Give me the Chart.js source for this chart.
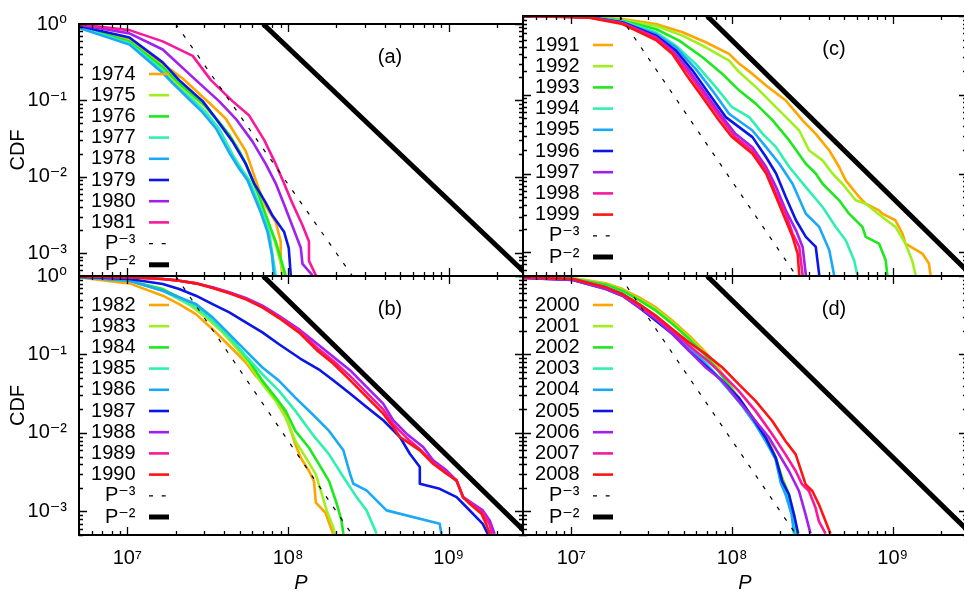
<!DOCTYPE html>
<html>
<head>
<meta charset="utf-8">
<script src="https://cdn.jsdelivr.net/npm/chart.js@4.4.1/dist/chart.umd.min.js"></script>
<style>
  html, body { margin: 0; padding: 0; background: #fff; overflow: hidden; }
  #wrap { position: relative; width: 964px; height: 595px; overflow: hidden; }
  #wrap canvas { position: absolute; left: 0; top: 0; }
</style>
</head>
<body>
<div id="wrap">
  <canvas id="panel-a" width="970" height="595"></canvas>
  <canvas id="panel-b" width="970" height="595"></canvas>
  <canvas id="panel-c" width="970" height="595"></canvas>
  <canvas id="panel-d" width="970" height="595"></canvas>
</div>
<script>
'use strict';

// ************************* AXES ***************************

const xTickValues = [1e7, 1e8, 1e9];
const xTickLabels = ['10⁷', '10⁸', '10⁹'];
const yTickValues = [1, 0.1, 0.01, 0.001];
const yTickLabels = ['10⁰', '10⁻¹', '10⁻²', '10⁻³'];

// power-law guide lines, end points
const refP3x = [2.0e7, 2.55e8];
const refP3y = [1, 4.8e-4];
const refP2x = [7.0e7, 3.1e9];
const refP2y = [1, 5.1e-4];

// ************************* PANEL (a) ***************************

const yearsA = ['1974', '1975', '1976', '1977', '1978', '1979', '1980', '1981'];
const p1974 = [5.0e6, 1.03e7, 1.66e7, 2.21e7, 3.39e7, 4.10e7, 4.73e7, 5.46e7, 6.0e7, 6.61e7, 7.26e7, 8.38e7, 9.0e7, 9.0e7, 9.22e7];
const c1974 = [0.93, 0.62, 0.30, 0.193, 0.0845, 0.0573, 0.0352, 0.0216, 0.0121, 0.00673, 0.00414, 0.00255, 0.00142, 0.00079, 0.00051];
const p1975 = [5.0e6, 1.03e7, 1.66e7, 2.0e7, 2.94e7, 3.72e7, 4.31e7, 4.97e7, 5.46e7, 6.0e7, 6.61e7, 7.45e7, 8.38e7, 9.44e7];
const c1975 = [0.92, 0.60, 0.277, 0.167, 0.0887, 0.052, 0.0352, 0.0216, 0.0147, 0.00902, 0.00555, 0.00281, 0.00129, 0.00051];
const p1976 = [5.0e6, 1.03e7, 1.66e7, 2.10e7, 3.08e7, 3.72e7, 4.31e7, 4.97e7, 5.46e7, 6.0e7, 6.61e7, 7.26e7, 8.38e7, 9.66e7];
const c1976 = [0.92, 0.59, 0.272, 0.167, 0.0845, 0.052, 0.0352, 0.0216, 0.0147, 0.00902, 0.00555, 0.00309, 0.00142, 0.00051];
const p1977 = [5.0e6, 1.03e7, 1.66e7, 1.91e7, 2.55e7, 3.08e7, 3.72e7, 4.51e7, 5.20e7, 5.73e7, 6.30e7, 6.93e7, 7.62e7, 8.0e7, 8.38e7];
const c1977 = [0.90, 0.558, 0.247, 0.167, 0.1026, 0.0695, 0.0428, 0.0196, 0.0121, 0.00902, 0.00555, 0.00341, 0.0019, 0.00096, 0.00051];
const p1978 = [5.0e6, 1.03e7, 1.66e7, 2.43e7, 2.94e7, 3.56e7, 4.31e7, 4.97e7, 5.58e7, 6.15e7, 6.76e7, 7.45e7, 7.93e7, 8.18e7];
const c1978 = [0.89, 0.537, 0.228, 0.1026, 0.0695, 0.0428, 0.0206, 0.0127, 0.00902, 0.00555, 0.00341, 0.0019, 0.00096, 0.00051];
const p1979 = [5.0e6, 1.03e7, 1.66e7, 2.10e7, 2.94e7, 3.56e7, 4.51e7, 5.46e7, 6.15e7, 7.26e7, 8.0e7, 9.44e7, 1.01e8, 1.04e8];
const c1979 = [0.944, 0.665, 0.314, 0.184, 0.0977, 0.0573, 0.029, 0.0147, 0.00818, 0.00457, 0.00309, 0.0019, 0.00117, 0.00051];
const p1980 = [5.0e6, 1.03e7, 1.66e7, 2.67e7, 3.72e7, 4.73e7, 6.0e7, 7.26e7, 8.38e7, 9.44e7, 1.06e8, 1.20e8, 1.23e8, 1.42e8];
const c1980 = [0.981, 0.754, 0.464, 0.184, 0.0977, 0.0573, 0.029, 0.0147, 0.00818, 0.00435, 0.00231, 0.00117, 0.00072, 0.00051];
const p1981 = [5.0e6, 1.03e7, 1.66e7, 2.55e7, 3.31e7, 4.51e7, 5.73e7, 7.10e7, 8.38e7, 9.44e7, 1.06e8, 1.23e8, 1.35e8, 1.35e8, 1.49e8];
const c1981 = [0.99, 0.831, 0.592, 0.382, 0.184, 0.0977, 0.0631, 0.0304, 0.0147, 0.00818, 0.00457, 0.00231, 0.00142, 0.00079, 0.00051];

// ************************* PANEL (b) ***************************

const yearsB = ['1982', '1983', '1984', '1985', '1986', '1987', '1988', '1989', '1990'];
const p1982 = [5.0e6, 1.03e7, 1.66e7, 2.10e7, 2.67e7, 3.39e7, 4.31e7, 5.46e7, 6.30e7, 7.26e7, 8.38e7, 9.22e7, 1.01e8, 1.11e8, 1.20e8, 1.35e8, 1.45e8, 1.49e8, 1.71e8, 1.80e8, 1.91e8];
const c1982 = [0.962, 0.806, 0.561, 0.439, 0.327, 0.210, 0.129, 0.0789, 0.0533, 0.0397, 0.0269, 0.0200, 0.0129, 0.00715, 0.00483, 0.00327, 0.00243, 0.00129, 0.00096, 0.000714, 0.000517];
const p1983 = [5.0e6, 1.03e7, 1.66e7, 2.43e7, 3.08e7, 3.91e7, 4.73e7, 5.73e7, 6.93e7, 8.38e7, 9.66e7, 1.11e8, 1.29e8, 1.49e8, 1.74e8, 1.91e8, 1.96e8];
const c1983 = [0.962, 0.872, 0.662, 0.430, 0.297, 0.191, 0.123, 0.0752, 0.0418, 0.0256, 0.0157, 0.00789, 0.00483, 0.00296, 0.00103, 0.00063, 0.000517];
const p1984 = [5.0e6, 1.03e7, 1.66e7, 2.43e7, 3.08e7, 3.91e7, 4.73e7, 5.73e7, 6.93e7, 8.38e7, 9.66e7, 1.11e8, 1.35e8, 1.56e8, 1.80e8, 2.01e8, 2.15e8, 2.21e8];
const c1984 = [0.962, 0.872, 0.682, 0.461, 0.327, 0.210, 0.135, 0.0829, 0.0461, 0.0282, 0.0191, 0.0106, 0.00648, 0.00397, 0.00243, 0.00125, 0.000765, 0.000517];
const p1985 = [5.0e6, 1.03e7, 1.66e7, 2.67e7, 3.39e7, 4.31e7, 5.46e7, 6.93e7, 8.79e7, 1.11e8, 1.42e8, 1.80e8, 2.21e8, 2.67e8, 3.08e8, 3.56e8];
const c1985 = [0.962, 0.872, 0.650, 0.398, 0.269, 0.165, 0.0961, 0.0560, 0.0343, 0.0191, 0.0096, 0.00533, 0.00274, 0.00152, 0.00103, 0.000517];
const p1986 = [5.0e6, 1.03e7, 1.66e7, 2.67e7, 3.39e7, 4.31e7, 5.46e7, 6.93e7, 8.79e7, 1.11e8, 1.42e8, 1.80e8, 2.21e8, 2.43e8, 2.55e8, 3.08e8, 4.10e8, 8.79e8, 9.00e8];
const c1986 = [0.962, 0.872, 0.650, 0.439, 0.297, 0.182, 0.111, 0.0682, 0.0461, 0.0282, 0.0173, 0.0106, 0.00600, 0.00302, 0.00225, 0.00185, 0.00103, 0.000694, 0.000517];
const p1987 = [5.0e6, 1.03e7, 1.66e7, 2.10e7, 2.67e7, 3.39e7, 4.31e7, 5.46e7, 6.93e7, 8.79e7, 1.19e8, 1.58e8, 1.91e8, 2.43e8, 3.08e8, 3.91e8, 4.97e8, 5.73e8, 6.61e8, 6.61e8, 8.79e8, 1.12e9, 1.23e9, 1.63e9, 1.75e9];
const c1987 = [0.980, 0.915, 0.790, 0.682, 0.561, 0.439, 0.344, 0.256, 0.191, 0.135, 0.0888, 0.0630, 0.0470, 0.0317, 0.0214, 0.0145, 0.00887, 0.00543, 0.00367, 0.00225, 0.00194, 0.00152, 0.00125, 0.000694, 0.000517];
const p1988 = [5.0e6, 1.03e7, 1.66e7, 2.10e7, 2.67e7, 3.39e7, 4.31e7, 5.46e7, 6.93e7, 8.79e7, 1.19e8, 1.51e8, 1.91e8, 2.43e8, 3.08e8, 3.91e8, 4.51e8, 5.46e8, 6.93e8, 8.00e8, 9.68e8, 1.12e9, 1.23e9, 1.63e9, 1.80e9, 1.93e9];
const c1988 = [0.980, 0.962, 0.915, 0.872, 0.806, 0.717, 0.619, 0.524, 0.418, 0.311, 0.204, 0.138, 0.0933, 0.0630, 0.0386, 0.0236, 0.0145, 0.00979, 0.00661, 0.00447, 0.00333, 0.00248, 0.00152, 0.00103, 0.000765, 0.000517];
const p1989 = [5.0e6, 1.03e7, 1.66e7, 2.10e7, 2.67e7, 3.39e7, 4.31e7, 5.46e7, 6.93e7, 8.79e7, 1.19e8, 1.51e8, 1.91e8, 2.43e8, 3.08e8, 3.91e8, 4.51e8, 5.46e8, 6.61e8, 8.00e8, 9.68e8, 1.12e9, 1.23e9, 1.63e9, 1.80e9, 1.86e9];
const c1989 = [0.980, 0.962, 0.915, 0.872, 0.806, 0.710, 0.610, 0.514, 0.40, 0.30, 0.196, 0.123, 0.083, 0.0533, 0.0327, 0.0200, 0.0129, 0.0087, 0.0062, 0.0042, 0.0031, 0.00243, 0.00149, 0.00096, 0.00068, 0.000517];
const p1990 = [5.0e6, 1.03e7, 1.66e7, 2.10e7, 2.67e7, 3.39e7, 4.31e7, 5.46e7, 6.93e7, 8.79e7, 1.19e8, 1.51e8, 1.91e8, 2.43e8, 3.08e8, 3.91e8, 4.51e8, 4.97e8, 5.73e8, 6.61e8, 8.00e8, 9.68e8, 1.12e9, 1.23e9, 1.35e9, 1.60e9, 1.71e9, 1.80e9];
const c1990 = [0.980, 0.962, 0.915, 0.872, 0.806, 0.703, 0.601, 0.504, 0.398, 0.291, 0.185, 0.1135, 0.0767, 0.0470, 0.0288, 0.0176, 0.0119, 0.00887, 0.00729, 0.00600, 0.00405, 0.00302, 0.00248, 0.00152, 0.00125, 0.00093, 0.000694, 0.000517];

// ************************* PANEL (c) ***************************

const yearsC = ['1991', '1992', '1993', '1994', '1995', '1996', '1997', '1998', '1999'];
const p1991 = [5.0e6, 1.29e7, 2.08e7, 3.36e7, 4.92e7, 6.86e7, 9.58e7, 1.11e8, 1.34e8, 1.63e8, 2.16e8, 2.75e8, 3.32e8, 4.03e8, 4.64e8, 5.10e8, 6.18e8, 6.79e8, 8.22e8, 8.61e8, 1.04e9, 1.15e9, 1.20e9, 1.53e9, 1.68e9, 1.72e9];
const c1991 = [1.0, 0.981, 0.916, 0.792, 0.621, 0.464, 0.330, 0.247, 0.184, 0.131, 0.0845, 0.0472, 0.0319, 0.0196, 0.0121, 0.00818, 0.00503, 0.00414, 0.00341, 0.00309, 0.00255, 0.00173, 0.00129, 0.000964, 0.000719, 0.000512];
const p1992 = [5.0e6, 1.29e7, 2.08e7, 3.36e7, 4.92e7, 6.86e7, 9.58e7, 1.11e8, 1.41e8, 1.79e8, 2.27e8, 2.62e8, 3.02e8, 3.66e8, 4.22e8, 4.86e8, 5.89e8, 6.79e8, 8.61e8, 1.04e9, 1.20e9, 1.32e9, 1.39e9];
const c1992 = [1.0, 0.981, 0.890, 0.754, 0.563, 0.401, 0.272, 0.193, 0.125, 0.0766, 0.0472, 0.0352, 0.0196, 0.0147, 0.0100, 0.00742, 0.00457, 0.00414, 0.00281, 0.00210, 0.00129, 0.000793, 0.000512];
const p1993 = [5.0e6, 1.29e7, 2.08e7, 3.36e7, 4.69e7, 6.55e7, 8.71e7, 1.11e8, 1.41e8, 1.79e8, 2.27e8, 2.88e8, 3.32e8, 3.66e8, 4.64e8, 5.35e8, 6.48e8, 6.79e8, 8.22e8, 9.04e8, 9.26e8];
const c1993 = [1.0, 0.981, 0.873, 0.684, 0.487, 0.299, 0.184, 0.113, 0.0766, 0.0472, 0.0263, 0.0133, 0.0100, 0.00742, 0.00457, 0.00309, 0.00210, 0.00157, 0.00129, 0.000793, 0.000512];
const p1994 = [5.0e6, 1.29e7, 2.08e7, 3.36e7, 4.47e7, 5.94e7, 7.93e7, 1.00e8, 1.28e8, 1.55e8, 1.88e8, 2.27e8, 2.88e8, 3.66e8, 4.42e8, 5.10e8, 5.75e8, 6.03e8];
const c1994 = [1.0, 0.971, 0.856, 0.621, 0.421, 0.247, 0.125, 0.0695, 0.0520, 0.0319, 0.0216, 0.0121, 0.00673, 0.00376, 0.00210, 0.00142, 0.000793, 0.000512];
const p1995 = [5.0e6, 1.29e7, 2.08e7, 3.36e7, 4.47e7, 5.94e7, 7.55e7, 9.58e7, 1.34e8, 1.63e8, 1.97e8, 2.38e8, 2.88e8, 3.49e8, 4.03e8, 4.32e8];
const c1995 = [1.0, 0.971, 0.831, 0.592, 0.401, 0.213, 0.113, 0.0573, 0.0352, 0.0216, 0.0133, 0.00742, 0.00309, 0.00210, 0.00106, 0.000512];
const p1996 = [5.0e6, 1.29e7, 2.08e7, 3.36e7, 4.47e7, 5.68e7, 7.19e7, 9.14e7, 1.34e8, 1.63e8, 1.88e8, 2.16e8, 2.50e8, 2.88e8, 3.32e8, 3.49e8];
const c1996 = [1.0, 0.962, 0.831, 0.563, 0.364, 0.203, 0.103, 0.0520, 0.0290, 0.0161, 0.0100, 0.00503, 0.00255, 0.00157, 0.00117, 0.000512];
const p1997 = [5.0e6, 1.29e7, 2.08e7, 3.36e7, 4.26e7, 5.41e7, 6.86e7, 8.71e7, 1.05e8, 1.34e8, 1.63e8, 1.88e8, 2.16e8, 2.50e8, 2.75e8, 2.88e8];
const c1997 = [1.0, 0.962, 0.815, 0.537, 0.364, 0.203, 0.103, 0.0520, 0.0319, 0.0216, 0.0121, 0.00673, 0.00341, 0.00190, 0.00117, 0.000512];
const p1998 = [5.0e6, 1.29e7, 2.08e7, 3.36e7, 4.26e7, 5.41e7, 6.86e7, 8.71e7, 1.05e8, 1.34e8, 1.63e8, 1.88e8, 2.16e8, 2.38e8, 2.62e8, 2.75e8];
const c1998 = [1.0, 0.962, 0.807, 0.526, 0.346, 0.184, 0.0933, 0.0472, 0.0290, 0.0196, 0.0110, 0.00555, 0.00309, 0.00173, 0.00117, 0.000512];
const p1999 = [5.0e6, 1.29e7, 2.08e7, 3.36e7, 4.26e7, 5.15e7, 6.55e7, 8.30e7, 1.00e8, 1.34e8, 1.63e8, 1.88e8, 2.16e8, 2.38e8, 2.56e8, 2.62e8];
const c1999 = [1.0, 0.952, 0.792, 0.496, 0.330, 0.184, 0.0933, 0.0472, 0.0290, 0.0178, 0.0100, 0.00503, 0.00255, 0.00157, 0.000964, 0.000512];

// ************************* PANEL (d) ***************************

const yearsD = ['2000', '2001', '2002', '2003', '2004', '2005', '2006', '2007', '2008'];
const p2000 = [5.0e6, 1.02e7, 1.64e7, 2.08e7, 2.64e7, 3.36e7, 4.26e7, 5.41e7, 6.55e7, 7.93e7, 9.58e7, 1.16e8, 1.40e8, 1.54e8, 1.70e8, 1.87e8, 2.05e8, 2.26e8, 2.43e8, 2.55e8];
const c2000 = [0.980, 0.943, 0.806, 0.682, 0.534, 0.398, 0.269, 0.173, 0.117, 0.0752, 0.0418, 0.0232, 0.0142, 0.0106, 0.0079, 0.00483, 0.00268, 0.00164, 0.00091, 0.00052];
const p2001 = [5.0e6, 1.02e7, 1.64e7, 2.08e7, 2.64e7, 3.36e7, 4.26e7, 5.41e7, 6.55e7, 7.93e7, 9.58e7, 1.16e8, 1.40e8, 1.62e8, 1.87e8, 2.05e8, 2.26e8, 2.43e8, 2.51e8];
const c2001 = [0.980, 0.934, 0.790, 0.662, 0.508, 0.379, 0.256, 0.165, 0.111, 0.0716, 0.0418, 0.0244, 0.0142, 0.0087, 0.00483, 0.00268, 0.00164, 0.00091, 0.00052];
const p2002 = [5.0e6, 1.02e7, 1.64e7, 2.08e7, 2.64e7, 3.36e7, 4.26e7, 5.41e7, 6.55e7, 7.93e7, 9.58e7, 1.16e8, 1.40e8, 1.62e8, 1.87e8, 2.05e8, 2.26e8, 2.39e8, 2.49e8];
const c2002 = [0.971, 0.924, 0.775, 0.650, 0.494, 0.361, 0.244, 0.157, 0.106, 0.0682, 0.0398, 0.0232, 0.0135, 0.00828, 0.00483, 0.00255, 0.00164, 0.00091, 0.00052];
const p2003 = [5.0e6, 1.02e7, 1.64e7, 2.08e7, 2.64e7, 3.36e7, 4.26e7, 5.41e7, 6.55e7, 7.93e7, 9.58e7, 1.16e8, 1.40e8, 1.62e8, 1.87e8, 2.03e8, 2.21e8, 2.37e8, 2.46e8];
const c2003 = [0.962, 0.915, 0.731, 0.601, 0.439, 0.311, 0.200, 0.129, 0.0871, 0.0560, 0.0360, 0.0221, 0.0129, 0.0079, 0.00460, 0.00221, 0.00157, 0.00091, 0.00052];
const p2004 = [5.0e6, 1.02e7, 1.64e7, 2.08e7, 2.64e7, 3.36e7, 4.26e7, 5.41e7, 6.55e7, 7.93e7, 9.58e7, 1.16e8, 1.40e8, 1.62e8, 1.87e8, 2.01e8, 2.17e8, 2.35e8, 2.43e8];
const c2004 = [0.962, 0.907, 0.717, 0.589, 0.430, 0.297, 0.196, 0.123, 0.0829, 0.0549, 0.0350, 0.0221, 0.0129, 0.0079, 0.00460, 0.00232, 0.00157, 0.00091, 0.00052];
const p2005 = [5.0e6, 1.02e7, 1.64e7, 2.08e7, 2.64e7, 3.36e7, 4.26e7, 5.41e7, 6.86e7, 8.71e7, 1.10e8, 1.34e8, 1.62e8, 1.87e8, 2.05e8, 2.26e8, 2.43e8, 2.58e8];
const c2005 = [0.943, 0.889, 0.682, 0.561, 0.398, 0.269, 0.182, 0.111, 0.0716, 0.0461, 0.0282, 0.0157, 0.0087, 0.00483, 0.00243, 0.00164, 0.00091, 0.00052];
const p2006 = [5.0e6, 1.02e7, 1.64e7, 2.08e7, 2.64e7, 3.36e7, 4.26e7, 5.41e7, 6.86e7, 8.71e7, 1.10e8, 1.40e8, 1.70e8, 1.96e8, 2.26e8, 2.61e8, 2.87e8, 3.08e8];
const c2006 = [0.943, 0.889, 0.682, 0.561, 0.398, 0.282, 0.182, 0.111, 0.0682, 0.0461, 0.0256, 0.0142, 0.0087, 0.00533, 0.00327, 0.00182, 0.00091, 0.00052];
const p2007 = [5.0e6, 1.02e7, 1.64e7, 2.08e7, 2.64e7, 3.36e7, 4.26e7, 5.41e7, 6.86e7, 8.71e7, 1.10e8, 1.40e8, 1.78e8, 2.15e8, 2.49e8, 2.73e8, 3.01e8, 3.31e8, 3.47e8, 3.82e8];
const c2007 = [0.962, 0.915, 0.717, 0.578, 0.418, 0.297, 0.200, 0.129, 0.0871, 0.0560, 0.0343, 0.0191, 0.0096, 0.00533, 0.00327, 0.00221, 0.00182, 0.00111, 0.00075, 0.00052];
const p2008 = [5.0e6, 1.02e7, 1.64e7, 2.08e7, 2.64e7, 3.36e7, 4.26e7, 5.41e7, 6.86e7, 8.71e7, 1.10e8, 1.40e8, 1.78e8, 2.15e8, 2.49e8, 2.87e8, 3.16e8, 3.47e8, 3.82e8, 4.10e8];
const c2008 = [0.962, 0.915, 0.717, 0.589, 0.439, 0.311, 0.210, 0.142, 0.101, 0.0682, 0.0418, 0.0256, 0.0142, 0.0079, 0.00533, 0.00221, 0.00182, 0.00123, 0.00075, 0.00052];

// ************************* STYLE ***************************

const FONT = '"Liberation Sans", "DejaVu Sans", Arial, sans-serif';
const lineColors = ['#ffa500', '#a0f01e', '#1ee81e', '#30f0b0', '#1aa8f8', '#0a16e8', '#a020f0', '#f8189c', '#ff1414'];
const W = 970;
const H = 595;

// plot rectangles in page pixels (right panels run a little past the window edge)
let panels = [
  { id: 'panel-a', tag: '(a)', years: yearsA, left: 79, top: 16, right: 523, bottom: 276, legendTop: 74,
    p: [p1974, p1975, p1976, p1977, p1978, p1979, p1980, p1981],
    c: [c1974, c1975, c1976, c1977, c1978, c1979, c1980, c1981] },
  { id: 'panel-b', tag: '(b)', years: yearsB, left: 79, top: 276, right: 523, bottom: 535, legendTop: 305,
    p: [p1982, p1983, p1984, p1985, p1986, p1987, p1988, p1989, p1990],
    c: [c1982, c1983, c1984, c1985, c1986, c1987, c1988, c1989, c1990] },
  { id: 'panel-c', tag: '(c)', years: yearsC, left: 523, top: 16, right: 967, bottom: 276, legendTop: 45,
    p: [p1991, p1992, p1993, p1994, p1995, p1996, p1997, p1998, p1999],
    c: [c1991, c1992, c1993, c1994, c1995, c1996, c1997, c1998, c1999] },
  { id: 'panel-d', tag: '(d)', years: yearsD, left: 523, top: 276, right: 967, bottom: 535, legendTop: 305,
    p: [p2000, p2001, p2002, p2003, p2004, p2005, p2006, p2007, p2008],
    c: [c2000, c2001, c2002, c2003, c2004, c2005, c2006, c2007, c2008] }
];

// ************************* PLUGIN: ticks, frame, key ***************************

const framePlugin = {
  id: 'frame',
  afterDatasetsDraw(chart, args, opts) {
    const ctx = chart.ctx;
    const a = chart.chartArea;
    const x = chart.scales.x;
    const y = chart.scales.y;
    ctx.save();
    ctx.strokeStyle = '#000';
    ctx.lineWidth = 1.3;
    ctx.beginPath();
    for (let d = 6; d <= 9; d++) {
      for (let m = 1; m <= 9; m++) {
        const v = m * Math.pow(10, d);
        if (v < x.min || v > x.max) continue;
        const px = Math.round(x.getPixelForValue(v)) + 0.5;
        const len = m === 1 ? 8 : 4;
        ctx.moveTo(px, a.bottom); ctx.lineTo(px, a.bottom - len);
        ctx.moveTo(px, a.top); ctx.lineTo(px, a.top + len);
      }
    }
    for (let d = -4; d <= 0; d++) {
      for (let m = 1; m <= 9; m++) {
        const v = m * Math.pow(10, d);
        if (v < y.min || v > y.max * 1.0001) continue;
        const py = Math.round(y.getPixelForValue(v)) + 0.5;
        const len = m === 1 ? 8 : 4;
        ctx.moveTo(a.left, py); ctx.lineTo(a.left + len, py);
        ctx.moveTo(a.right, py); ctx.lineTo(a.right - len, py);
      }
    }
    ctx.stroke();

    ctx.lineWidth = 2;
    ctx.strokeRect(a.left, a.top, a.right - a.left, a.bottom - a.top);

    // key, text right aligned with the sample line after it
    ctx.font = '20px ' + FONT;
    ctx.fillStyle = '#000';
    ctx.textAlign = 'right';
    ctx.textBaseline = 'middle';
    chart.data.datasets.forEach((ds, i) => {
      const yy = opts.legendTop + i * 21.2;
      ctx.fillText(ds.label, a.left + 56.5, yy);
      ctx.save();
      ctx.strokeStyle = ds.borderColor;
      ctx.lineWidth = ds.borderWidth;
      ctx.setLineDash(ds.borderDash || []);
      ctx.beginPath();
      ctx.moveTo(a.left + 70, yy);
      ctx.lineTo(a.left + 90, yy);
      ctx.stroke();
      ctx.restore();
    });

    ctx.textAlign = 'center';
    ctx.fillText(opts.tag, a.left + 311, a.top + 33);
    ctx.restore();
  }
};

// ************************* BUILD ***************************

function buildPanel(panel) {
  const isLeft = panel.left < 100;
  const isBottom = panel.top > 100;
  let datasets = [];

  panel.years.forEach((yr, i) => {
    datasets.push({
      label: yr,
      data: panel.p[i].map((v, j) => ({ x: v, y: panel.c[i][j] })),
      borderColor: lineColors[i],
      borderWidth: 2.6,
      order: 50 - i
    });
  });
  datasets.push({
    label: 'P⁻³',
    data: refP3x.map((v, j) => ({ x: v, y: refP3y[j] })),
    borderColor: '#000',
    borderWidth: 1.2,
    borderDash: [4, 8.7],
    order: 2
  });
  datasets.push({
    label: 'P⁻²',
    data: refP2x.map((v, j) => ({ x: v, y: refP2y[j] })),
    borderColor: '#000',
    borderWidth: 5,
    order: 1
  });

  return new Chart(document.getElementById(panel.id), {
    type: 'line',
    data: { datasets: datasets },
    options: {
      responsive: false,
      animation: false,
      events: [],
      clip: 0,
      layout: {
        padding: {
          left: isLeft ? 0 : panel.left,
          right: W - panel.right,
          top: panel.top,
          bottom: isBottom ? 0 : H - panel.bottom
        }
      },
      elements: {
        point: { radius: 0 },
        line: { tension: 0, borderJoinStyle: 'round', borderCapStyle: 'butt' }
      },
      plugins: {
        legend: { display: false },
        tooltip: { enabled: false },
        frame: { legendTop: panel.legendTop, tag: panel.tag }
      },
      scales: {
        x: {
          type: 'logarithmic',
          min: 5e6,
          max: 2.9e9,
          display: isBottom,
          grid: { display: false, drawTicks: false },
          border: { display: false },
          afterBuildTicks: (s) => { s.ticks = xTickValues.map(v => ({ value: v })); },
          afterFit: (s) => { s.height = isBottom ? H - panel.bottom : 0; },
          ticks: {
            autoSkip: false,
            maxRotation: 0,
            padding: 11,
            color: '#000',
            font: { family: FONT, size: 20 },
            callback: (v, i) => xTickLabels[i]
          },
          title: {
            display: true,
            text: 'P',
            color: '#000',
            padding: { top: 0, bottom: 0 },
            font: { family: FONT, size: 20, style: 'italic' }
          }
        },
        y: {
          type: 'logarithmic',
          min: 5e-4,
          max: 1,
          display: isLeft,
          grid: { display: false, drawTicks: false },
          border: { display: false },
          afterBuildTicks: (s) => { s.ticks = yTickValues.map(v => ({ value: v })); },
          afterFit: (s) => { s.width = isLeft ? panel.left : 0; },
          ticks: {
            autoSkip: false,
            crossAlign: 'near',
            padding: 12,
            color: '#000',
            font: { family: FONT, size: 20 },
            callback: (v, i) => yTickLabels[i]
          },
          title: {
            display: true,
            text: 'CDF',
            color: '#000',
            padding: { top: 6, bottom: 0 },
            font: { family: FONT, size: 20 }
          }
        }
      }
    },
    plugins: [framePlugin]
  });
}

panels.forEach(buildPanel);
</script>
</body>
</html>
